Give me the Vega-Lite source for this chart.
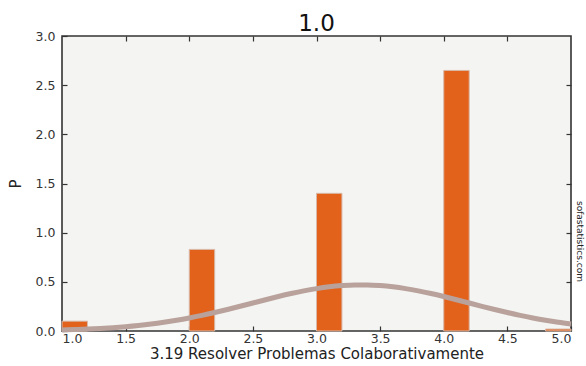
{
  "$schema": "https://vega.github.io/schema/vega-lite/v6.json",
  "autosize": "none",
  "width": 509,
  "height": 295,
  "padding": {"left": 62, "top": 36, "right": 15, "bottom": 35},
  "background": "white",
  "title": {"text": "1.0", "fontSize": 23, "font": "DejaVu Sans", "fontWeight": "normal", "color": "#111", "offset": -6},
  "config": {
    "font": "DejaVu Sans",
    "view": {"fill": "#f4f4f3", "stroke": "#333", "strokeWidth": 1.6},
    "axis": {"grid": false, "domain": false, "tickColor": "#333", "tickSize": -5, "tickWidth": 1.2, "labelFont": "DejaVu Sans", "labelFontSize": 12.5, "labelColor": "#333", "titleFont": "DejaVu Sans", "titleFontWeight": "normal", "titleColor": "#222"}
  },
  "resolve": {"axis": {"x": "independent", "y": "independent"}},
  "layer": [
    {
      "data": {"values": [
        {"x0": 1.0, "x1": 1.2, "p": 0.1},
        {"x0": 2.0, "x1": 2.2, "p": 0.83},
        {"x0": 3.0, "x1": 3.2, "p": 1.4},
        {"x0": 4.0, "x1": 4.2, "p": 2.65},
        {"x0": 4.8, "x1": 5.0, "p": 0.02}
      ]},
      "mark": {"type": "bar", "color": "#e2621c", "stroke": "#d8b8a8", "strokeWidth": 1},
      "encoding": {
        "x": {"field": "x0", "type": "quantitative", "scale": {"domain": [1, 5], "nice": false}, "axis": {"orient": "bottom", "values": [1, 1.5, 2, 2.5, 3, 3.5, 4, 4.5, 5], "format": ".1f", "labelPadding": 6, "title": "3.19 Resolver Problemas Colaborativamente", "titleFontSize": 15, "titlePadding": 2}},
        "x2": {"field": "x1"},
        "y": {"field": "p", "type": "quantitative", "scale": {"domain": [0, 3], "nice": false}, "axis": {"orient": "left", "values": [0, 0.5, 1, 1.5, 2, 2.5, 3], "format": ".1f", "labelPadding": 12, "title": "P", "titleFontSize": 15, "titlePadding": 12}},
        "y2": {"datum": 0}
      }
    },
    {
      "data": {"values": [
        {"x": 1.0, "p": 0.0103}, {"x": 1.1, "p": 0.0141}, {"x": 1.2, "p": 0.0191}, {"x": 1.3, "p": 0.0256},
        {"x": 1.4, "p": 0.0338}, {"x": 1.5, "p": 0.044}, {"x": 1.6, "p": 0.0564}, {"x": 1.7, "p": 0.0713},
        {"x": 1.8, "p": 0.089}, {"x": 1.9, "p": 0.1095}, {"x": 2.0, "p": 0.133}, {"x": 2.1, "p": 0.1592},
        {"x": 2.2, "p": 0.188}, {"x": 2.3, "p": 0.2188}, {"x": 2.4, "p": 0.2512}, {"x": 2.5, "p": 0.2846},
        {"x": 2.6, "p": 0.318}, {"x": 2.7, "p": 0.3504}, {"x": 2.8, "p": 0.3807}, {"x": 2.9, "p": 0.408},
        {"x": 3.0, "p": 0.4312}, {"x": 3.1, "p": 0.4494}, {"x": 3.2, "p": 0.462}, {"x": 3.3, "p": 0.4685},
        {"x": 3.4, "p": 0.4685}, {"x": 3.5, "p": 0.462}, {"x": 3.6, "p": 0.4494}, {"x": 3.7, "p": 0.4312},
        {"x": 3.8, "p": 0.408}, {"x": 3.9, "p": 0.3807}, {"x": 4.0, "p": 0.3504}, {"x": 4.1, "p": 0.318},
        {"x": 4.2, "p": 0.2846}, {"x": 4.3, "p": 0.2512}, {"x": 4.4, "p": 0.2188}, {"x": 4.5, "p": 0.188},
        {"x": 4.6, "p": 0.1592}, {"x": 4.7, "p": 0.133}, {"x": 4.8, "p": 0.1095}, {"x": 4.9, "p": 0.089},
        {"x": 5.0, "p": 0.0713}
      ]},
      "mark": {"type": "line", "color": "#b9a29c", "strokeWidth": 5, "interpolate": "monotone"},
      "encoding": {
        "x": {"field": "x", "type": "quantitative", "axis": {"orient": "top", "values": [1.5, 2, 2.5, 3, 3.5, 4, 4.5], "labels": false, "title": null}},
        "y": {"field": "p", "type": "quantitative", "axis": {"orient": "right", "values": [0.5, 1, 1.5, 2, 2.5], "labels": false, "title": "sofastatistics.com", "titleFontSize": 9, "titleAngle": 90, "titleBaseline": "middle", "titleX": 8, "titleY": 205, "titleColor": "#222"}}
      }
    }
  ]
}
